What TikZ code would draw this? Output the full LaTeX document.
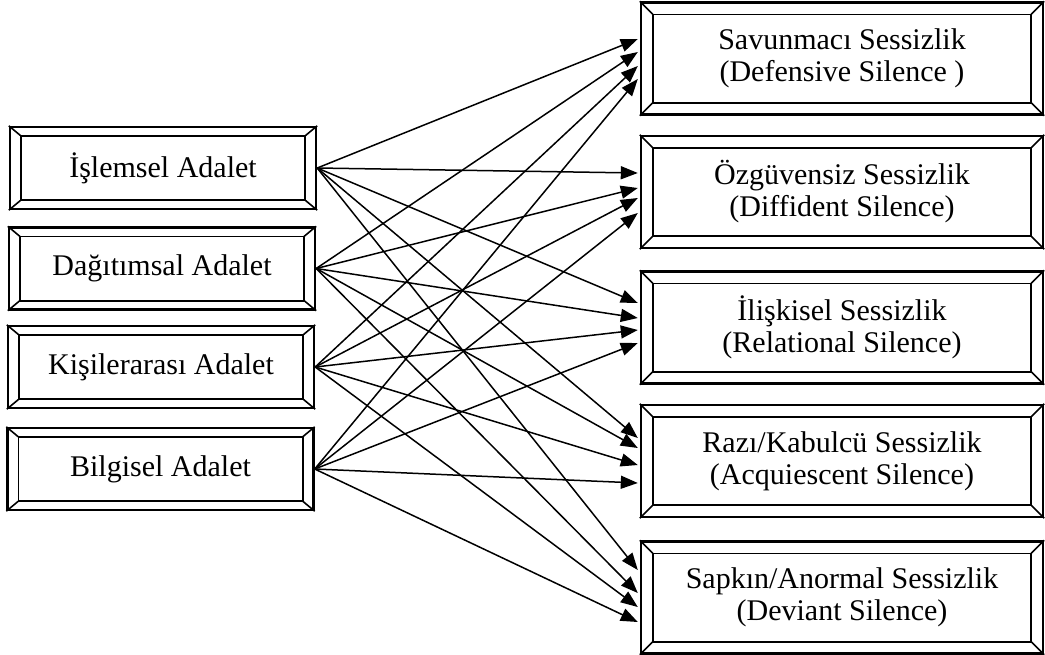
\documentclass[tikz,border=0pt]{standalone}
\usepackage{fontspec}
\setmainfont{Liberation Serif}
\usetikzlibrary{arrows.meta}
\begin{document}
\begin{tikzpicture}[x=0.5pt,y=-0.5pt,font=\fontsize{15}{16}\selectfont,
    lbox/.style={draw,line width=1.2pt,inner sep=0pt,minimum width=153pt,minimum height=41pt},
    rbox/.style={draw,line width=1.2pt,inner sep=0pt,minimum width=201pt,minimum height=56pt,align=center},
    arr/.style={-{Triangle[length=8.5pt,width=6.5pt]},line width=0.75pt}]
    \useasboundingbox (0,0) rectangle (1045,654);
    % left side
    \node[lbox] (isl) at (163,168) {İşlemsel Adalet};
    \node[lbox] (dag) at (162,268.5) {Dağıtımsal Adalet};
    \node[lbox] (kis) at (161,367) {Kişilerarası Adalet};
    \node[lbox] (bil) at (160.5,469) {Bilgisel Adalet};
    % right side
    \node[rbox] (sav) at (842,58.5) {Savunmacı Sessizlik\\(Defensive Silence )};
    \node[rbox] (ozg) at (842,192) {Özgüvensiz Sessizlik\\(Diffident Silence)};
    \node[rbox] (ili) at (842,327.5) {İlişkisel Sessizlik\\(Relational Silence)};
    \node[rbox] (raz) at (842,461) {Razı/Kabulcü Sessizlik\\(Acquiescent Silence)};
    \node[rbox] (sap) at (842,597.5) {Sapkın/Anormal Sessizlik\\(Deviant Silence)};
    % bevel frames
    \foreach \n/\bx/\by in {isl/12/10,dag/12/10,kis/12/10,bil/12/10,sav/13/13,ozg/13/13,ili/13/13,raz/13/13,sap/13/13}{
        \draw[line width=0.8pt] ([shift={(\bx,\by)}]\n.north west) rectangle ([shift={(-\bx,-\by)}]\n.south east);
        \draw[line width=0.8pt] (\n.north west) -- ([shift={(\bx,\by)}]\n.north west)
            (\n.north east) -- ([shift={(-\bx,\by)}]\n.north east)
            (\n.south west) -- ([shift={(\bx,-\by)}]\n.south west)
            (\n.south east) -- ([shift={(-\bx,-\by)}]\n.south east);
    }
    % connectors
    \foreach \t/\a/\b/\c/\d in {sav/-19.5/-6.5/7.5/20.5,ozg/-19/-4/6/21,ili/-24.5/-9.5/2.5/15.5,raz/-23/-13/4/22,sap/-27.5/-4.5/9.5/24.5}{
        \draw[arr] (isl.east) -- ([shift={(-2,\a)}]\t.west);
        \draw[arr] (dag.east) -- ([shift={(-2,\b)}]\t.west);
        \draw[arr] (kis.east) -- ([shift={(-2,\c)}]\t.west);
        \draw[arr] (bil.east) -- ([shift={(-2,\d)}]\t.west);
    }
\end{tikzpicture}
\end{document}
